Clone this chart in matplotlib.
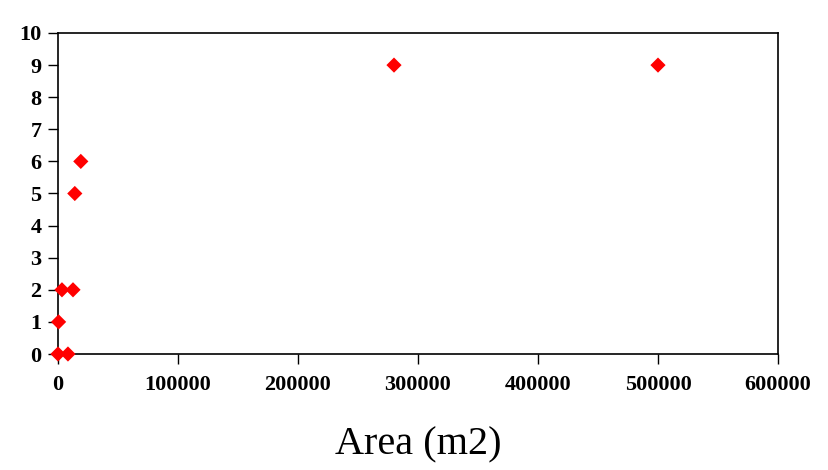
import matplotlib
matplotlib.use("Agg")
import matplotlib.pyplot as plt

# Values
area = [0, 8300, 500, 3300, 12500, 14000, 19000, 280000, 500000]
count = [0, 0, 1, 2, 2, 5, 6, 9, 9]

x_ticks = [0, 100000, 200000, 300000, 400000, 500000, 600000]
y_ticks = list(range(0, 11))

plt.rcParams["font.family"] = ["Liberation Serif", "DejaVu Serif"]

fig = plt.figure(figsize=(8.29, 4.70), dpi=100)
ax = fig.add_axes([58 / 829, 1 - 354 / 470, 720 / 829, 321 / 470])

ax.scatter(area, count, marker="D", s=60, color="#ff0000", edgecolor="none",
           zorder=5, clip_on=False)

ax.set_xlim(0, 600000)
ax.set_ylim(0, 10)
ax.set_xticks(x_ticks)
ax.set_yticks(y_ticks)
ax.set_xticklabels([str(v) for v in x_ticks], fontweight="bold", fontsize=16)
ax.set_yticklabels([str(v) for v in y_ticks], fontweight="bold", fontsize=16)
ax.tick_params(direction="out", length=7, width=1, colors="black")
ax.tick_params(axis="y", pad=5)
ax.tick_params(axis="x", pad=8)
for s in ax.spines.values():
    s.set_linewidth(1.2)
    s.set_color("black")

ax.set_xlabel("Area (m2)", fontsize=29, labelpad=23)

fig.savefig("out.png", dpi=100)
